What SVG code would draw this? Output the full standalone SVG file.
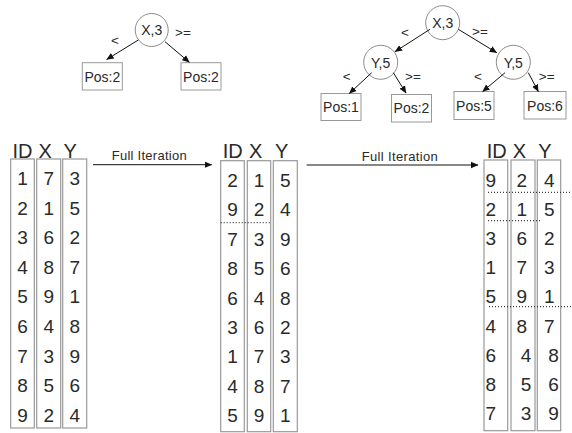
<svg xmlns="http://www.w3.org/2000/svg" width="572" height="433" viewBox="0 0 572 433">
<defs>
<marker id="ah" markerWidth="8" markerHeight="8" refX="7" refY="4" orient="auto" markerUnits="userSpaceOnUse">
<path d="M0,0.8 L7.5,4 L0,7.2 Z" fill="#111"/>
</marker>
</defs>
<style>
text{font-family:"Liberation Sans",Arial,sans-serif;fill:#2a2a2a}
.node{fill:#fff;stroke:#8c8c8c;stroke-width:1}
.leaf{fill:#fff;stroke:#999;stroke-width:1}
.col{fill:none;stroke:#999;stroke-width:1.2}
.t{font-size:14px;text-anchor:middle}
.lab{font-size:13.5px;text-anchor:middle}
.hd{font-size:20px}
.d{font-size:19px;text-anchor:middle}
.ds{font-size:19px}
.edge{stroke:#111;stroke-width:1;fill:none;marker-end:url(#ah)}
.dot{stroke:#111;stroke-width:1;stroke-dasharray:1 2;fill:none}
.fi{font-size:13px}
</style>

<!-- Left tree -->
<g id="tree1">
<g id="t1_root"><circle class="node" cx="151.7" cy="30" r="16.5"/><text class="t" x="151.7" y="35">X,3</text></g>
<g id="t1_l"><rect class="leaf" x="82.3" y="62.7" width="40" height="27.3"/><text class="t" x="102.3" y="81.5">Pos:2</text></g>
<g id="t1_r"><rect class="leaf" x="181" y="62.7" width="40" height="27.3"/><text class="t" x="201" y="81.5">Pos:2</text></g>
</g>

<!-- Right tree -->
<g id="tree2">
<g id="t2_root"><circle class="node" cx="442.7" cy="22.7" r="17"/><text class="t" x="442.7" y="28">X,3</text></g>
<g id="t2_yl"><circle class="node" cx="380.7" cy="62.3" r="17"/><text class="t" x="380.7" y="67.5">Y,5</text></g>
<g id="t2_yr"><circle class="node" cx="513.3" cy="62.3" r="17"/><text class="t" x="513.3" y="67.5">Y,5</text></g>
<g id="t2_p1"><rect class="leaf" x="321" y="93.5" width="40" height="27"/><text class="t" x="341" y="112">Pos:1</text></g>
<g id="t2_p2"><rect class="leaf" x="391.5" y="94.5" width="40" height="27.5"/><text class="t" x="411.5" y="113">Pos:2</text></g>
<g id="t2_p5"><rect class="leaf" x="454" y="91.5" width="40" height="28"/><text class="t" x="474" y="110.5">Pos:5</text></g>
<g id="t2_p6"><rect class="leaf" x="524" y="91.5" width="42" height="27.5"/><text class="t" x="545" y="110.5">Pos:6</text></g>
</g>

<!-- Connectors -->
<g id="connectors">
<line class="edge" x1="138.3" y1="40" x2="106.7" y2="59.5"/>
<line class="edge" x1="165" y1="41.7" x2="189.3" y2="62.3"/>
<line class="edge" x1="430" y1="29.3" x2="395" y2="51.7"/>
<line class="edge" x1="458.3" y1="29.3" x2="496.7" y2="52.7"/>
<line class="edge" x1="371.7" y1="72.7" x2="349.3" y2="93.5"/>
<line class="edge" x1="393.3" y1="72.7" x2="406" y2="93"/>
<line class="edge" x1="505" y1="72.7" x2="482.7" y2="91.5"/>
<line class="edge" x1="528.3" y1="72.7" x2="538.3" y2="91.5"/>
<line class="edge" x1="93" y1="164.7" x2="211.7" y2="164.7"/>
<line class="edge" x1="306.7" y1="165" x2="478" y2="165"/>
</g>

<g id="edge_labels">
<text class="lab" x="115" y="45">&lt;</text>
<text class="lab" x="183" y="37">&gt;=</text>
<text class="lab" x="405" y="37">&lt;</text>
<text class="lab" x="480" y="36">&gt;=</text>
<text class="lab" x="346.7" y="81">&lt;</text>
<text class="lab" x="413" y="81">&gt;=</text>
<text class="lab" x="478" y="81">&lt;</text>
<text class="lab" x="546.7" y="81">&gt;=</text>
<text class="fi" x="111.7" y="159.5" textLength="75">Full Iteration</text>
<text class="fi" x="361.7" y="160.5" textLength="76">Full Iteration</text>
</g>

<!-- Left table -->
<g id="table1">
<text class="hd" x="12.5" y="157.5">ID</text><text class="hd" x="38.5" y="157.5">X</text><text class="hd" x="63.5" y="157.5">Y</text>
<rect class="col" x="10.7" y="159" width="23.6" height="269"/>
<rect class="col" x="36.7" y="159" width="24" height="269"/>
<rect class="col" x="62.7" y="159" width="24" height="269"/>
<text class="d" x="22.5" y="185">1</text><text class="d" x="48.7" y="185">7</text><text class="d" x="74.7" y="185">3</text>
<text class="d" x="22.5" y="214.6">2</text><text class="d" x="48.7" y="214.6">1</text><text class="d" x="74.7" y="214.6">5</text>
<text class="d" x="22.5" y="244.2">3</text><text class="d" x="48.7" y="244.2">6</text><text class="d" x="74.7" y="244.2">2</text>
<text class="d" x="22.5" y="273.8">4</text><text class="d" x="48.7" y="273.8">8</text><text class="d" x="74.7" y="273.8">7</text>
<text class="d" x="22.5" y="303.4">5</text><text class="d" x="48.7" y="303.4">9</text><text class="d" x="74.7" y="303.4">1</text>
<text class="d" x="22.5" y="333">6</text><text class="d" x="48.7" y="333">4</text><text class="d" x="74.7" y="333">8</text>
<text class="d" x="22.5" y="362.6">7</text><text class="d" x="48.7" y="362.6">3</text><text class="d" x="74.7" y="362.6">9</text>
<text class="d" x="22.5" y="392.2">8</text><text class="d" x="48.7" y="392.2">5</text><text class="d" x="74.7" y="392.2">6</text>
<text class="d" x="22.5" y="421.8">9</text><text class="d" x="48.7" y="421.8">2</text><text class="d" x="74.7" y="421.8">4</text>
</g>

<!-- Middle table -->
<g id="table2">
<text class="hd" x="222.7" y="157.5">ID</text><text class="hd" x="249" y="157.5">X</text><text class="hd" x="275" y="157.5">Y</text>
<rect class="col" x="220.7" y="160.7" width="23.6" height="271"/>
<rect class="col" x="247.3" y="160.7" width="23.4" height="271"/>
<rect class="col" x="273.3" y="160.7" width="24" height="271"/>
<line class="dot" x1="220.7" y1="222.7" x2="270.7" y2="222.7"/>
<text class="d" x="232.5" y="187">2</text><text class="d" x="259" y="187">1</text><text class="d" x="285.3" y="187">5</text>
<text class="d" x="232.5" y="216.4">9</text><text class="d" x="259" y="216.4">2</text><text class="d" x="285.3" y="216.4">4</text>
<text class="d" x="232.5" y="245.8">7</text><text class="d" x="259" y="245.8">3</text><text class="d" x="285.3" y="245.8">9</text>
<text class="d" x="232.5" y="275.2">8</text><text class="d" x="259" y="275.2">5</text><text class="d" x="285.3" y="275.2">6</text>
<text class="d" x="232.5" y="304.6">6</text><text class="d" x="259" y="304.6">4</text><text class="d" x="285.3" y="304.6">8</text>
<text class="d" x="232.5" y="334">3</text><text class="d" x="259" y="334">6</text><text class="d" x="285.3" y="334">2</text>
<text class="d" x="232.5" y="363.4">1</text><text class="d" x="259" y="363.4">7</text><text class="d" x="285.3" y="363.4">3</text>
<text class="d" x="232.5" y="392.8">4</text><text class="d" x="259" y="392.8">8</text><text class="d" x="285.3" y="392.8">7</text>
<text class="d" x="232.5" y="422.2">5</text><text class="d" x="259" y="422.2">9</text><text class="d" x="285.3" y="422.2">1</text>
</g>

<!-- Right table -->
<g id="table3">
<text class="hd" x="486.7" y="157.5">ID</text><text class="hd" x="512.7" y="157.5">X</text><text class="hd" x="538.3" y="157.5">Y</text>
<rect class="col" x="484" y="160" width="23.7" height="270.7"/>
<rect class="col" x="511" y="160" width="24" height="270.7"/>
<rect class="col" x="537.3" y="160" width="23.4" height="270.7"/>
<line class="dot" x1="488" y1="192.3" x2="572" y2="192.3"/>
<line class="dot" x1="488" y1="220.7" x2="540" y2="220.7"/>
<line class="dot" x1="489" y1="306.7" x2="572" y2="306.7"/>
<text class="ds" x="485.5" y="187">9</text><text class="ds" x="516.5" y="187">2</text><text class="ds" x="544" y="187">4</text>
<text class="ds" x="485.5" y="216.1">2</text><text class="ds" x="516.5" y="216.1">1</text><text class="ds" x="544" y="216.1">5</text>
<text class="ds" x="485.5" y="245.2">3</text><text class="ds" x="516.5" y="245.2">6</text><text class="ds" x="544" y="245.2">2</text>
<text class="ds" x="485.5" y="274.3">1</text><text class="ds" x="516.5" y="274.3">7</text><text class="ds" x="544" y="274.3">3</text>
<text class="ds" x="485.5" y="303.4">5</text><text class="ds" x="516.5" y="303.4">9</text><text class="ds" x="544" y="303.4">1</text>
<text class="ds" x="485.5" y="332.5">4</text><text class="ds" x="516.5" y="332.5">8</text><text class="ds" x="544" y="332.5">7</text>
<text class="ds" x="485.5" y="361.6">6</text><text class="ds" x="520.7" y="361.6">4</text><text class="ds" x="548.3" y="361.6">8</text>
<text class="ds" x="485.5" y="390.7">8</text><text class="ds" x="520.7" y="390.7">5</text><text class="ds" x="548.3" y="390.7">6</text>
<text class="ds" x="485.5" y="419.8">7</text><text class="ds" x="520.7" y="419.8">3</text><text class="ds" x="548.3" y="419.8">9</text>
</g>
</svg>
